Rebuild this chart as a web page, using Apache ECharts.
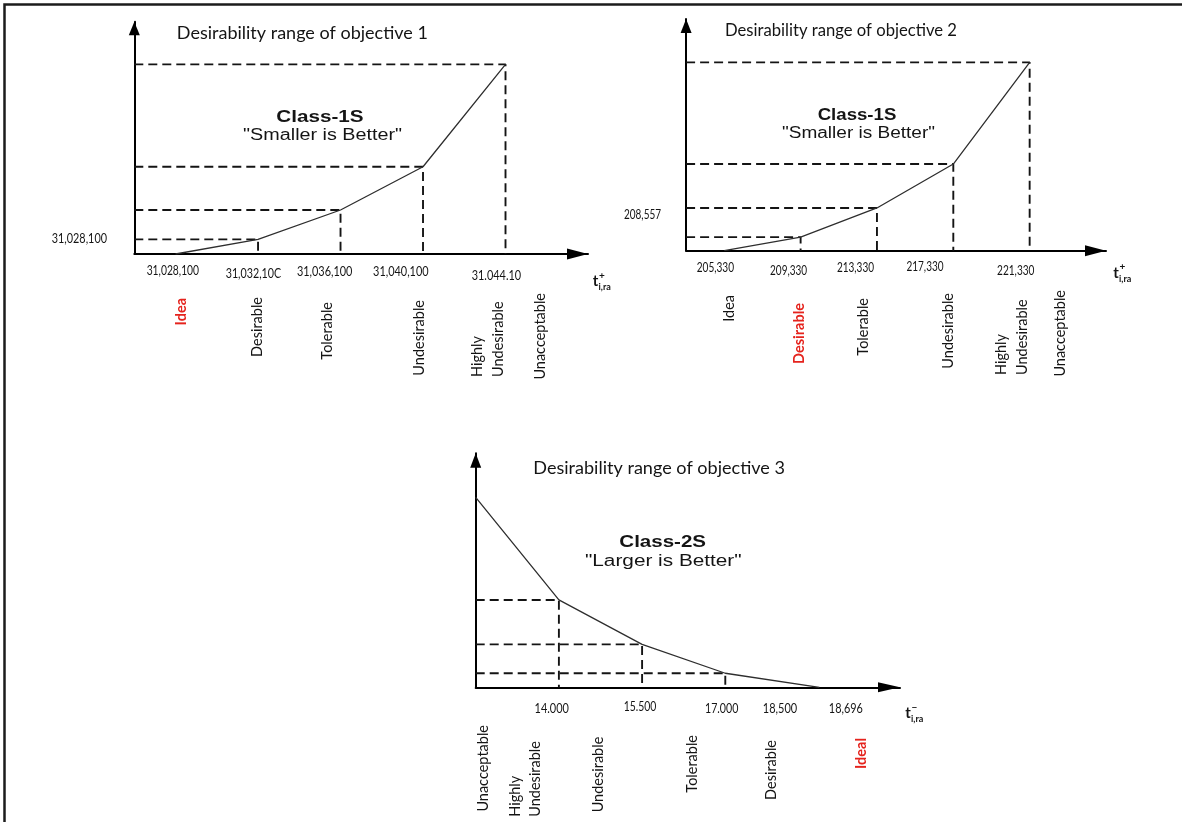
<!DOCTYPE html>
<html>
<head>
<meta charset="utf-8">
<title>Desirability ranges of objectives</title>
<script src="https://cdn.jsdelivr.net/npm/echarts@6.0.0/dist/echarts.min.js"></script>
<style>
html,body{margin:0;padding:0;background:#fff;}
#chart{width:1182px;height:822px;}
</style>
</head>
<body>
<div id="chart"></div>
<script>
// ================= DATA =================
const obj1Values = [31028100, 31032100, 31036100, 31040100, 31044100];
const obj1Pref = [0, 0.77, 2.32, 4.6, 10];
const obj1TickLabels = ['31,028,100', '31,032,10C', '31,036,100', '31,040,100', '31.044.10'];
const obj1YLabel = '31,028,100';
const obj1YLabelAt = 0.77;
const obj1Classes = ['Idea', 'Desirable', 'Tolerable', 'Undesirable', 'Highly\nUndesirable', 'Unacceptable'];
const obj1Highlight = 'Idea';

const obj2Values = [205330, 209330, 213330, 217330, 221330];
const obj2Pref = [0, 0.72, 2.27, 4.6, 10];
const obj2TickLabels = ['205,330', '209,330', '213,330', '217,330', '221,330'];
const obj2YLabel = '208,557';
const obj2YLabelAt = 1.9;
const obj2Classes = ['Idea', 'Desirable', 'Tolerable', 'Undesirable', 'Highly\nUndesirable', 'Unacceptable'];
const obj2Highlight = 'Desirable';

const obj3Values = [12.5, 14.0, 15.5, 17.0, 18.696];
const obj3Pref = [10, 4.6, 2.26, 0.74, 0];
const obj3TickValues = [14.0, 15.5, 17.0, 18.5, 18.696];
const obj3TickLabels = ['14.000', '15.500', '17.000', '18,500', '18,696'];
const obj3Classes = ['Unacceptable', 'Highly\nUndesirable', 'Undesirable', 'Tolerable', 'Desirable', 'Ideal'];
const obj3Highlight = 'Ideal';

const titles = ['Desirability range of objective 1', 'Desirability range of objective 2', 'Desirability range of objective 3'];
const classNames = ['Class-1S', 'Class-1S', 'Class-2S'];
const classMottos = ['"Smaller is Better"', '"Smaller is Better"', '"Larger is Better"'];
const axisSup = ['+', '+', '\u2212'];
const axisSub = 'i,ra';

// ================= LAYOUT (pixels / styling) =================
const grids = [
  {left: 134.3, top: 21.7, width: 453.7, height: 232.3},
  {left: 686.1, top: 19, width: 419.9, height: 231.7},
  {left: 475.7, top: 453.3, width: 424.3, height: 234}
];
const xRange = [[31026100, 31048100], [203330, 225330], [12.5, 20.15]];
const yMax = [12.25, 12.3, 12.32];
const xArrow = [[11, 21], [11, 21], [10, 22]];
const yArrow = [[11, 13.5], [11, 14], [11, 14.5]];

const tickDx = [[-2.7, -4.6, -15.9, -22.2, -9.1], [-8.9, -12, -21.5, -28.3, -13.9], [-7.2, -2.1, -3.6, -28.5, 26.5]];
const tickY = [[270.7, 274.3, 271.7, 271.7, 276], [268.3, 270.7, 268.3, 266.7, 270.7], [709.3, 706.7, 709.3, 709.3, 709.3]];
const tickW = [[52.4, 55.5, 55.5, 55.5, 49.4], [37.4, 37.1, 37.1, 37.1, 37.4], [34.3, 32.7, 33.3, 34.3, 34]];
const catAnchor = [
  [31028360, 31032050, 31035450, 31039900, 31043250, 31045800],
  [205570, 209260, 212625, 217050, 220405, 222935],
  [12.637, 13.398, 14.711, 16.406, 17.837, 19.46]
];
const catY = [[298, 297, 302, 300, 377, 293], [295, 303, 298, 293, 375, 290], [725, 816.7, 736.7, 735, 740, 738]];
const titlePos = [[176.8, 33.3, 251.1], [725, 31, 232], [533.3, 468.3, 251.7]];
const classPos = [[320, 117.3, 87.3, 322.6, 136, 159], [857, 115.7, 78.7, 858.5, 133.3, 153], [662.7, 542.7, 86.7, 663.3, 561.7, 156.7]];
const yLabRight = [[107, 55.3], [661, 37]];
const tOff = [[7.5, 27], [10, 22], [8, 26]];

const INK = '#141414';
const RED = '#e5231d';

// ================= BUILD =================
const datasets = [
  {xs: obj1Values, ys: obj1Pref, ticks: obj1Values, tickLabels: obj1TickLabels, classes: obj1Classes, hi: obj1Highlight, yLabel: obj1YLabel, yAt: obj1YLabelAt},
  {xs: obj2Values, ys: obj2Pref, ticks: obj2Values, tickLabels: obj2TickLabels, classes: obj2Classes, hi: obj2Highlight, yLabel: obj2YLabel, yAt: obj2YLabelAt},
  {xs: obj3Values, ys: obj3Pref, ticks: obj3TickValues, tickLabels: obj3TickLabels, classes: obj3Classes, hi: obj3Highlight, yLabel: null, yAt: null}
];

const chart = echarts.init(document.getElementById('chart'), null, {renderer: 'canvas'});

const xAxes = [], yAxes = [], series = [];
datasets.forEach((d, i) => {
  xAxes.push({
    type: 'value', gridIndex: i, min: xRange[i][0], max: xRange[i][1],
    axisLine: {show: true, onZero: false, lineStyle: {color: '#000', width: 2},
      symbol: ['none', 'triangle'], symbolSize: xArrow[i], symbolOffset: [0, -xArrow[i][1] / 2]},
    axisTick: {show: false}, axisLabel: {show: false}, splitLine: {show: false}
  });
  yAxes.push({
    type: 'value', gridIndex: i, min: 0, max: yMax[i],
    axisLine: {show: true, onZero: false, lineStyle: {color: '#000', width: 2},
      symbol: ['none', 'triangle'], symbolSize: yArrow[i], symbolOffset: [0, -yArrow[i][1] / 2]},
    axisTick: {show: false}, axisLabel: {show: false}, splitLine: {show: false}
  });
  // dashed guides from the y-axis to each point and down to the x-axis
  d.xs.forEach((x, j) => {
    const y = d.ys[j];
    if (y === 0 || x === xRange[i][0]) return;
    series.push({
      type: 'line', xAxisIndex: i, yAxisIndex: i, symbol: 'none', silent: true, z: 2,
      data: [[xRange[i][0], y], [x, y], [x, 0]],
      lineStyle: {color: INK, width: 1.9, type: [9, 5]}
    });
  });
  series.push({
    type: 'line', xAxisIndex: i, yAxisIndex: i, symbol: 'none', silent: true, z: 3,
    data: d.xs.map((x, j) => [x, d.ys[j]]),
    lineStyle: {color: '#2e2e2e', width: 1.3}
  });
});

chart.setOption({
  animation: false,
  backgroundColor: '#ffffff',
  grid: grids.map(g => Object.assign({outerBoundsMode: 'none'}, g)),
  xAxis: xAxes,
  yAxis: yAxes,
  series: series
});

// ================= TEXT =================
const mctx = document.createElement('canvas').getContext('2d');
function measure(text, size, weight, family) {
  mctx.font = weight + ' ' + size + 'px ' + family;
  return Math.max.apply(null, text.split('\n').map(s => mctx.measureText(s).width));
}
function txt(text, x, y, o) {
  const size = o.size, weight = o.weight || 'normal', family = o.family || 'Lato';
  let sx = 1;
  if (o.w) sx = o.w / measure(text, size, weight, family);
  return {
    type: 'text', x: x, y: y, rotation: o.rot || 0, scaleX: sx, scaleY: 1, silent: true, z: 10,
    style: {text: text, fontSize: size, fontWeight: weight, fontFamily: family, fill: o.color || INK,
      align: o.align || 'left', verticalAlign: o.va || 'middle', lineHeight: o.lh || Math.round(size * 1.3)}
  };
}

const gfx = [];
gfx.push({type: 'polyline', silent: true, z: 1, shape: {points: [[4.5, 822], [4.5, 4.5], [1182, 4.5]]},
  style: {stroke: '#1c1c1c', lineWidth: 2.5, fill: null}});

datasets.forEach((d, i) => {
  const P = (x, y) => chart.convertToPixel({gridIndex: i}, [x, y]);
  // title
  gfx.push(txt(titles[i], titlePos[i][0], titlePos[i][1], {size: i === 1 ? 16.5 : 17.5, w: titlePos[i][2]}));
  // class name & motto
  const c = classPos[i];
  gfx.push(txt(classNames[i], c[0], c[1], {size: 16.5, weight: 'bold', family: '"Liberation Sans"', align: 'center', w: c[2]}));
  gfx.push(txt(classMottos[i], c[3], c[4], {size: 16, family: '"Liberation Sans"', align: 'center', w: c[5]}));
  // tick value labels
  d.tickLabels.forEach((lab, j) => {
    const p = P(d.ticks[j], 0);
    gfx.push(txt(lab, p[0] + tickDx[i][j], tickY[i][j], {size: 12.5, align: 'center', w: tickW[i][j]}));
  });
  // y label
  if (d.yLabel) {
    const p = P(xRange[i][0], d.yAt);
    gfx.push(txt(d.yLabel, yLabRight[i][0], p[1], {size: 12.5, align: 'right', w: yLabRight[i][1]}));
  }
  // desirability class labels (vertical)
  d.classes.forEach((lab, j) => {
    const px = P(catAnchor[i][j], 0)[0];
    const hi = lab === d.hi;
    const multi = lab.indexOf('\n') >= 0;
    gfx.push(txt(lab, px, catY[i][j], {
      size: 14.5, weight: hi ? 'bold' : 'normal', color: hi ? RED : INK,
      rot: Math.PI / 2, align: multi ? 'left' : 'right', va: 'middle', lh: 20.5
    }));
  });
  // axis symbol t (with super/subscript) near the arrow
  const end = P(xRange[i][1], 0);
  const tx = end[0] + tOff[i][0], ty = end[1] + tOff[i][1];
  gfx.push(txt('t', tx, ty, {size: 15, weight: 'bold', align: 'center'}));
  gfx.push(txt(axisSup[i], tx + 6.5, ty - 5.5, {size: 10, weight: 'bold', align: 'center'}));
  gfx.push(txt(axisSub, tx + 3, ty + 6, {size: 9, weight: 'bold', align: 'left'}));
});

chart.setOption({graphic: gfx});
</script>
</body>
</html>
